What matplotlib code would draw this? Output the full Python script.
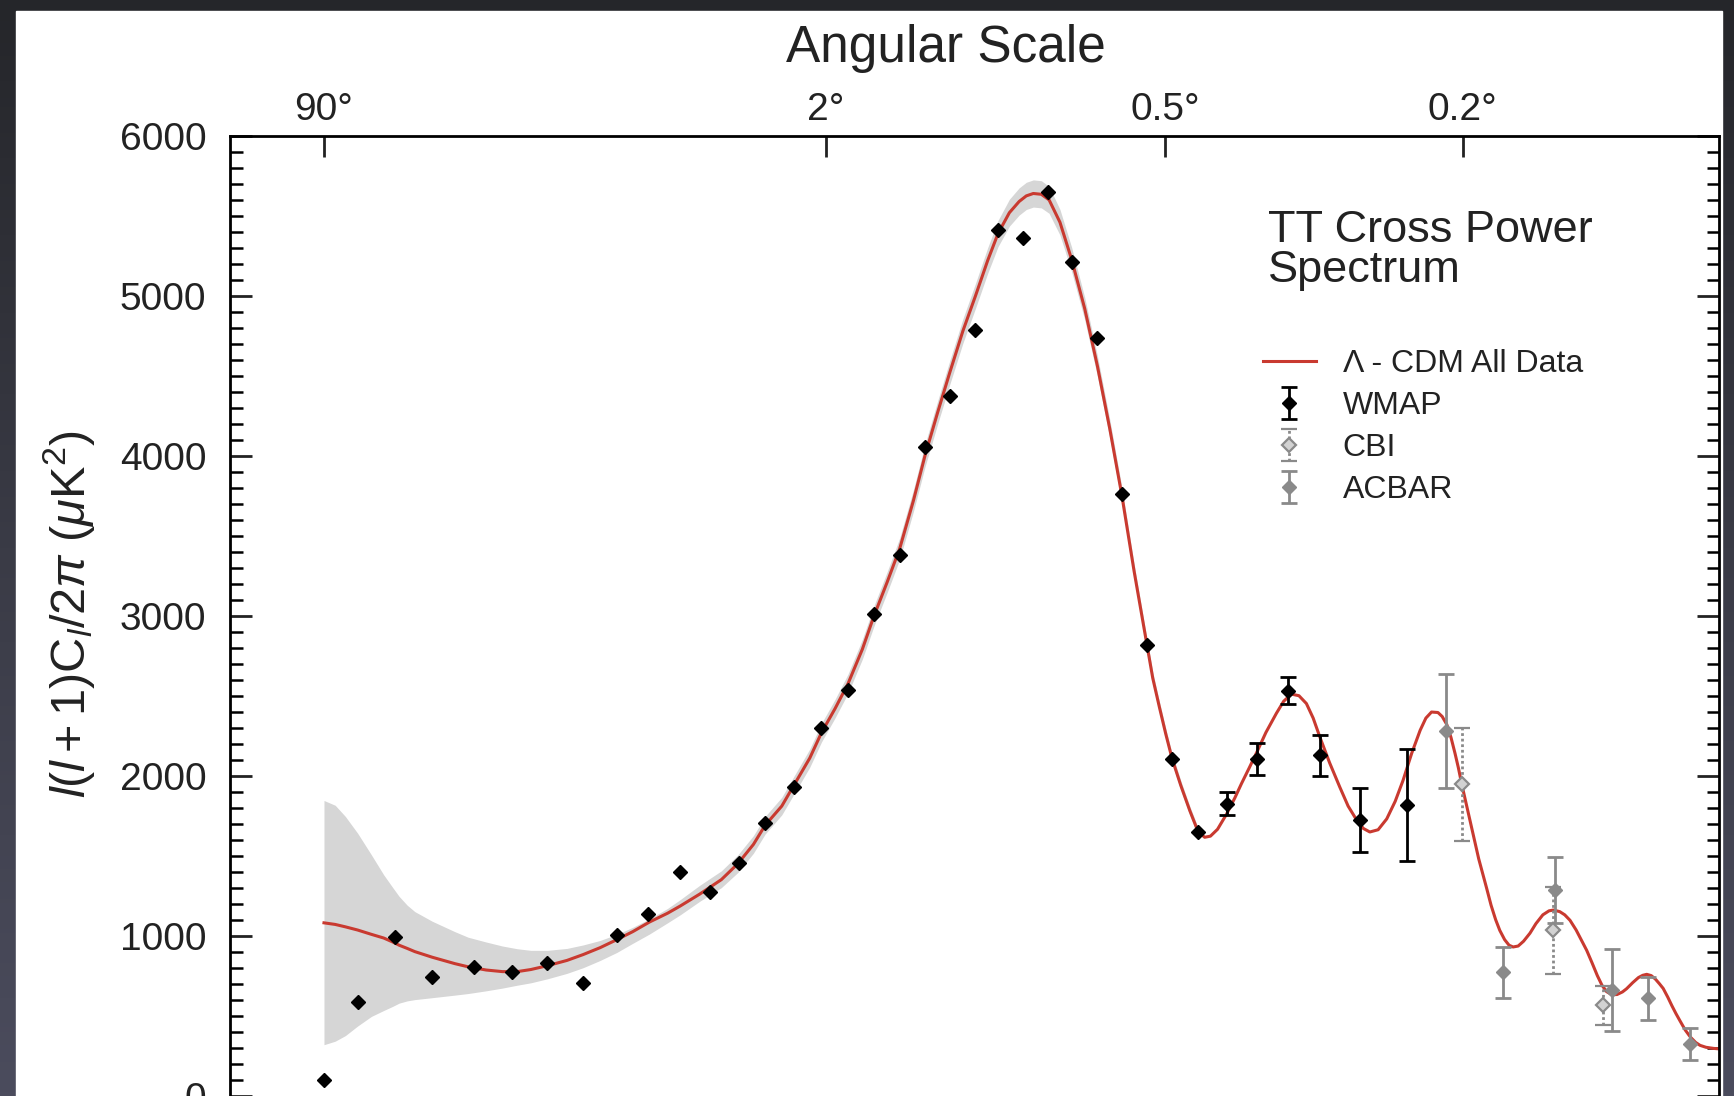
"""
WMAP TT cross power spectrum: binned WMAP, CBI and ACBAR band powers over the
Lambda-CDM best fit, with the cosmic variance band shaded in grey.

Usage:
    python plot.py
"""

import matplotlib

matplotlib.use("Agg")
import matplotlib.pyplot as plt
import numpy as np
from matplotlib.colors import LinearSegmentedColormap
from matplotlib.patches import Rectangle
from matplotlib.ticker import FixedLocator, MultipleLocator, NullLocator

plt.rcParams["font.family"] = ["Liberation Sans", "DejaVu Sans"]
plt.rcParams["mathtext.fontset"] = "custom"
plt.rcParams["mathtext.rm"] = "Liberation Sans"
plt.rcParams["mathtext.it"] = "Liberation Sans:italic"

# --- data (multipole l, l(l+1)C_l/2pi in uK^2) ---
nan = np.nan
wmap_l = [2, 3, 4.5, 6.5, 9.5, 13, 17, 22, 27.6, 33.7,
          41, 48.8, 57.3, 66, 76.7, 87.6, 100, 113, 127, 142,
          158, 176, 193, 213, 235, 257.5, 282.5, 309, 338, 369,
          403, 444, 489, 539, 595, 671, 770]
wmap_d = [95, 582, 989, 739, 802, 771, 826, 701, 1001, 1138,
          1395, 1270, 1457, 1706, 1927, 2300, 2535, 3012, 3378, 4056,
          4375, 4786, 5410, 5360, 5648, 5210, 4735, 3760, 2818, 2105,
          1645, 1826, 2107, 2532, 2127, 1720, 1814]
wmap_err = [nan, nan, nan, nan, nan, nan, nan, nan, nan, nan,
            nan, nan, nan, nan, nan, nan, nan, nan, nan, nan,
            nan, nan, nan, nan, nan, nan, nan, nan, nan, nan,
            nan, 70, 100, 85, 130, 200, 350]

cbi_l = [898, 1145, 1300]
cbi_d = [1945, 1033, 564]
cbi_err = [355, 270, 120]

acbar_l = [859, 1004, 1151, 1330, 1453, 1608]
acbar_d = [2280, 770, 1283, 658, 608, 325]
acbar_err = [357, 157, 206, 257, 135, 100]

# Lambda-CDM best fit
model_l = [2, 2.3, 2.6, 3, 3.5, 4, 4.4, 4.7, 5.1, 5.5,
           6.5, 8, 9, 10.5, 12, 13.5, 15, 17, 19.6, 22,
           24.7, 27.6, 30.6, 34, 38, 41, 46, 52, 57, 62,
           66, 72, 77, 83, 88, 94, 100, 107, 113, 120,
           127, 135, 142, 150, 158, 167, 176, 185, 193, 202,
           210, 216, 222, 229, 236, 246, 257, 270, 283, 296,
           309, 323, 338, 345, 353, 361, 369, 380, 392, 403,
           412, 420, 430, 443, 455, 465, 477, 489, 503, 520,
           532, 545, 558, 571, 583, 595, 613, 632, 648, 665,
           678, 691, 708, 726, 744, 761, 780, 799, 812, 825,
           840, 850, 861, 871, 881, 889, 897, 907, 918, 930,
           940, 950, 960, 972, 984, 995, 1008, 1020, 1031, 1045,
           1060, 1078, 1095, 1115, 1133, 1146, 1165, 1180, 1196, 1215,
           1232, 1248, 1265, 1282, 1297, 1312, 1330, 1347, 1365, 1379,
           1400, 1420, 1435, 1449, 1465, 1480, 1494, 1508, 1525, 1540,
           1555, 1570, 1590, 1610, 1630, 1647, 1670, 1700, 1722]
model_d = [1080, 1070, 1055, 1035, 1008, 985, 960, 940, 920, 900,
           865, 825, 805, 785, 775, 775, 788, 812, 845, 882,
           925, 975, 1025, 1085, 1140, 1185, 1260, 1350, 1450, 1570,
           1690, 1810, 1950, 2110, 2270, 2420, 2575, 2790, 3000, 3210,
           3420, 3720, 4000, 4270, 4520, 4780, 5000, 5220, 5390, 5520,
           5590, 5625, 5640, 5635, 5600, 5460, 5230, 4920, 4560, 4170,
           3760, 3280, 2820, 2610, 2430, 2260, 2105, 1940, 1780, 1650,
           1615, 1622, 1665, 1760, 1860, 1950, 2050, 2150, 2270, 2390,
           2465, 2510, 2500, 2451, 2360, 2242, 2080, 1929, 1810, 1721,
           1670, 1648, 1662, 1730, 1840, 1971, 2140, 2284, 2360, 2398,
           2395, 2370, 2320, 2240, 2138, 2050, 1951, 1840, 1721, 1590,
           1480, 1390, 1300, 1190, 1100, 1033, 975, 940, 929, 935,
           965, 1015, 1075, 1130, 1155, 1160, 1150, 1130, 1096, 1035,
           970, 908, 830, 750, 690, 650, 630, 632, 648, 668,
           706, 738, 752, 758, 750, 728, 700, 670, 615, 562,
           513, 468, 410, 365, 332, 314, 302, 295, 292]

# cosmic variance band edges, on the first model multipoles (up to l = 403)
band_hi = [1845, 1815, 1745, 1640, 1505, 1380, 1300, 1245, 1190, 1150,
           1090, 1025, 990, 960, 935, 918, 908, 908, 920, 942,
           970, 1008, 1052, 1105, 1170, 1225, 1315, 1405, 1505, 1625,
           1745, 1865, 2006, 2167, 2328, 2478, 2635, 2852, 3063, 3275,
           3487, 3788, 4070, 4342, 4594, 4856, 5078, 5300, 5472, 5604,
           5675, 5710, 5725, 5720, 5684, 5540, 5306, 4990, 4624, 4228,
           3812, 3326, 2860, 2648, 2466, 2294, 2137, 1970, 1808, 1676]
band_lo = [318, 340, 375, 435, 495, 532, 558, 578, 592, 600,
           612, 628, 638, 655, 672, 690, 705, 730, 764, 800,
           845, 895, 952, 1010, 1080, 1130, 1215, 1300, 1395, 1515,
           1635, 1755, 1894, 2053, 2212, 2362, 2515, 2728, 2937, 3145,
           3353, 3652, 3930, 4198, 4446, 4704, 4922, 5140, 5308, 5436,
           5505, 5540, 5555, 5550, 5516, 5380, 5154, 4850, 4496, 4112,
           3708, 3234, 2780, 2572, 2394, 2226, 2073, 1910, 1752, 1624]

# top axis: angular scale labels at their multipoles
angle_l = [2, 90, 360, 900]
angle_labels = ["90°", "2°", "0.5°", "0.2°"]

W, H = 1734, 1096
TEXT = "#222222"


def fwd(x):
    x = np.asarray(x, dtype=float)
    return np.sign(x) * np.abs(x) ** 0.25


def inv(u):
    u = np.asarray(u, dtype=float)
    return np.sign(u) * np.abs(u) ** 4


fig = plt.figure(figsize=(W / 100, H / 100), dpi=100)

# dark slide backdrop with the white page on top
bg = fig.add_axes([0, 0, 1, 1], zorder=-10)
cmap = LinearSegmentedColormap.from_list("slide", ["#25262a", "#3a3b46", "#4b4c5d"])
bg.imshow(np.linspace(0, 1, 256)[:, None], aspect="auto", cmap=cmap, extent=[0, 1, 0, 1], origin="upper")
bg.add_patch(Rectangle((16 / W, 0), (1722 - 16) / W, (H - 11) / H, color="white", transform=bg.transAxes))
bg.set_xlim(0, 1)
bg.set_ylim(0, 1)
bg.set_axis_off()

ax = fig.add_axes([230 / W, -0.0288, (1719 - 230) / W, 0.9048])
ax.set_facecolor("none")
ax.set_xscale("function", functions=(fwd, inv))
ax.set_xlim(0.487, 1722)
ax.set_ylim(-200, 6000)

band_l = model_l[: len(band_hi)]
ax.fill_between(band_l, band_lo, band_hi, color="#d6d6d6", lw=0, zorder=1)
(model_line,) = ax.plot(model_l, model_d, color="#c93a30", lw=2.2, zorder=2, label="Λ - CDM All Data")

wmap = ax.errorbar(wmap_l, wmap_d, yerr=wmap_err, fmt="D", ms=7.6, color="black", ecolor="black",
                   elinewidth=2, capsize=6, capthick=2, zorder=5, label="WMAP")
cbi = ax.errorbar(cbi_l, cbi_d, yerr=cbi_err, fmt="D", ms=7.0, mfc="#d2d2d2", mec="#8a8a8a", mew=1.6,
                  ecolor="#8a8a8a", elinewidth=2, capsize=5.5, capthick=2, zorder=4, label="CBI")
cbi[2][0].set_linestyle((0, (1, 1)))
acbar = ax.errorbar(acbar_l, acbar_d, yerr=acbar_err, fmt="D", ms=7.6, color="#8a8a8a", ecolor="#8a8a8a",
                    elinewidth=2, capsize=5.5, capthick=2, zorder=4, label="ACBAR")

# axes styling
for side in ["top", "left", "right", "bottom"]:
    ax.spines[side].set_linewidth(2)
ax.xaxis.set_major_locator(FixedLocator(angle_l))
ax.xaxis.set_minor_locator(NullLocator())
ax.set_xticklabels(angle_labels)
ax.tick_params(axis="x", which="both", bottom=False, labelbottom=False, top=True, labeltop=True,
               direction="in", length=15, width=2, pad=6, labelsize=28, colors=TEXT)
ax.yaxis.set_major_locator(MultipleLocator(1000))
ax.yaxis.set_minor_locator(MultipleLocator(100))
ax.tick_params(axis="y", which="major", direction="in", length=16, width=2, left=True, right=True,
               labelsize=28, pad=17, colors=TEXT)
ax.tick_params(axis="y", which="minor", direction="in", length=9, width=1.8, left=True, right=True)

fig.text(946 / W, 1 - 62 / H, "Angular Scale", fontsize=37, ha="center", va="baseline", color=TEXT)
ax.set_ylabel(r"$l(l+1)\mathrm{C}_l/2\pi\ (\mu\mathrm{K}^2)$", fontsize=35, color=TEXT)
ax.yaxis.set_label_coords(-0.0893, 0.518)

fig.text(1268 / W, 1 - 210 / H, "TT Cross Power\nSpectrum", fontsize=32.5, va="top", ha="left",
         linespacing=0.98, color=TEXT)
ax.legend(handles=[model_line, wmap, cbi, acbar], loc="upper left", bbox_to_anchor=(1263 / W, 1 - 349 / H),
          bbox_transform=fig.transFigure, frameon=False, fontsize=23, handlelength=1.65,
          handletextpad=0.85, labelspacing=0.38, borderpad=0, borderaxespad=0, labelcolor=TEXT)

fig.savefig("out.png", dpi=100)
